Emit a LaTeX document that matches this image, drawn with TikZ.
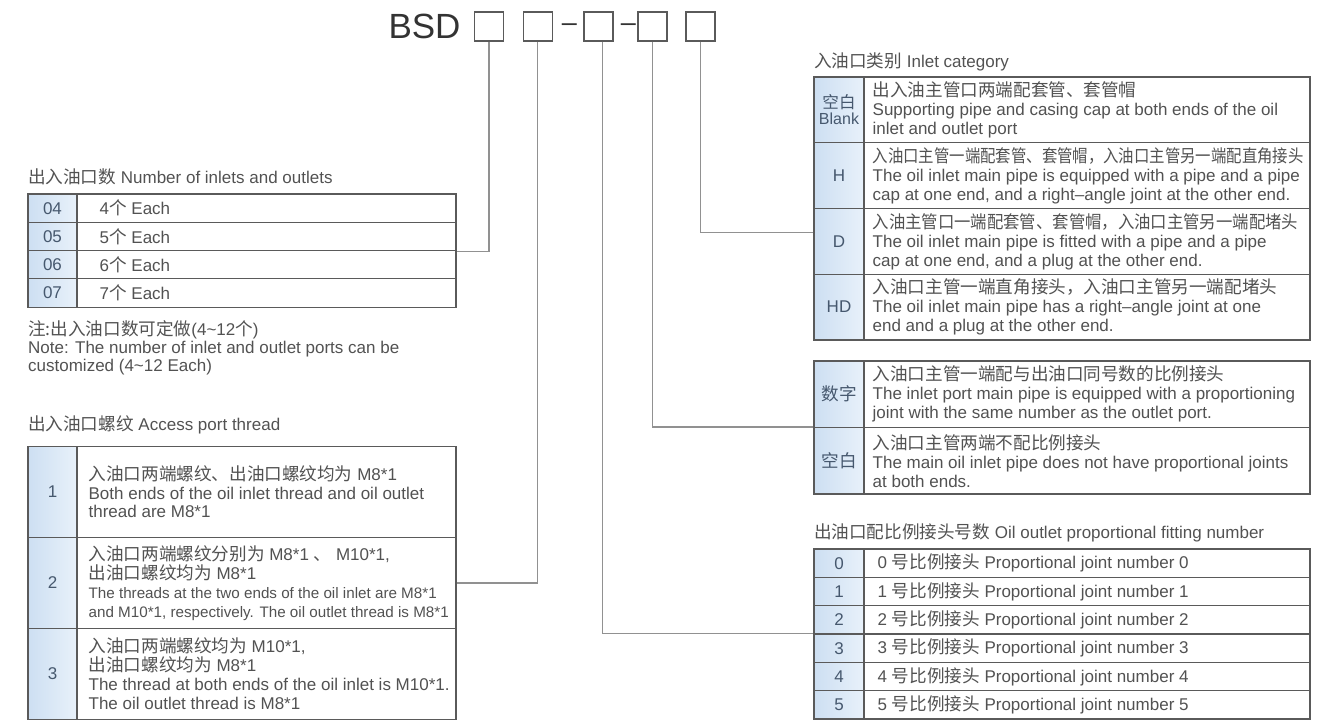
\documentclass[tikz,border=0pt]{standalone}
\usepackage{graphicx}
\usepackage{fontspec}
\setmainfont{Liberation Sans}
\newfontfamily\zhfont{Noto Sans CJK SC}[Scale=1.035]
\newcommand{\zh}[1]{{\zhfont #1}}
\newcommand{\zhfit}[2]{\scalebox{#1}[1]{\zh{#2}}}
\newcommand{\bodyfont}{\fontsize{17}{19}\selectfont}
\newcommand{\smallfont}{\fontsize{15.2}{19}\selectfont}
\usetikzlibrary{positioning}
\definecolor{txtgray}{RGB}{82,82,82}
\definecolor{rulegray}{RGB}{90,90,90}
\definecolor{wiregray}{RGB}{145,145,145}
\definecolor{cellblue}{RGB}{205,223,242}
\definecolor{cellpale}{RGB}{232,241,250}
\definecolor{labtext}{RGB}{70,88,110}

\tikzset{
  codebox/.style={rectangle, draw=rulegray, line width=1.4pt, minimum size=29pt, inner sep=0pt},
  labcell/.style={rectangle, draw=rulegray, line width=1.1pt, left color=cellblue, right color=cellpale, text=labtext, font=\bodyfont, align=center, inner sep=0pt},
  txtcell/.style={rectangle, draw=rulegray, line width=1.1pt, fill=white, inner sep=0pt},
  txt/.style={anchor=west, align=left, text=txtgray, font=\bodyfont, inner sep=0pt},
  wire/.style={draw=wiregray, line width=1.3pt},
}

\begin{document}
\begin{tikzpicture}[x=1pt, y=-1pt]
\useasboundingbox (0,0) rectangle (1325,721);

% Model code
\node[font=\fontsize{35}{40}\selectfont, text=black!80] (bsd) at (424.5,26) {BSD};
\node[codebox] (b1) at (489,26.5) {};
\node[codebox] (b2) at (537.8,26.5) {};
\node[font=\fontsize{27}{30}\selectfont, text=black!80] (hy1) at (569.5,28) {–};
\node[codebox] (b3) at (598.5,26.5) {};
\node[font=\fontsize{27}{30}\selectfont, text=black!80] (hy2) at (628.5,28) {–};
\node[codebox] (b4) at (652.5,26.5) {};
\node[codebox] (b5) at (700.5,26.5) {};

% Number of inlets and outlets
\node[txt] (ttlA) at (28,177) {\zh{出入油口数} Number of inlets and outlets};
\foreach \n/\m [count=\i] in {04/4,05/5,06/6,07/7} {
  \node[labcell, minimum width=49, minimum height=28.3] (a\i) at (52.5,{179.85+28.3*\i}) {\n};
  \node[txtcell, minimum width=379, minimum height=28.3] (at\i) at (266.5,{179.85+28.3*\i}) {};
  \node[txt] (atx\i) at ([xshift=23]at\i.west) {\m\zh{个} Each};
}
\node[txt, font=\fontsize{17}{18}\selectfont] (note) at (28,347.5)
  {\zh{注:出入油口数可定做}(4\textasciitilde12\zh{个})\\Note: The number of inlet and outlet ports can be\\customized (4\textasciitilde12 Each)};

% Access port thread
\node[txt] (ttlB) at (28,425) {\zh{出入油口螺纹} Access port thread};
\node[labcell, minimum width=49, minimum height=91] (t1) at (52.5,492) {1};
\node[txtcell, minimum width=379, minimum height=91] (tc1) at (266.5,492) {};
\node[txt, font=\fontsize{17}{18.5}\selectfont] (tx1) at ([xshift=12]tc1.west)
  {\zh{入油口两端螺纹、出油口螺纹均为} M8*1\\Both ends of the oil inlet thread and oil outlet\\thread are M8*1};
\node[labcell, minimum width=49, minimum height=91] (t2) at (52.5,583) {2};
\node[txtcell, minimum width=379, minimum height=91] (tc2) at (266.5,583) {};
\node[txt] (tx2) at ([xshift=12]tc2.west)
  {\zh{入油口两端螺纹分别为} M8*1 \zh{、} M10*1,\\\zh{出油口螺纹均为} M8*1\\\smallfont The threads at the two ends of the oil inlet are M8*1\\\smallfont and M10*1, respectively. The oil outlet thread is M8*1};
\node[labcell, minimum width=49, minimum height=91] (t3) at (52.5,674) {3};
\node[txtcell, minimum width=379, minimum height=91] (tc3) at (266.5,674) {};
\node[txt] (tx3) at ([xshift=12]tc3.west)
  {\zh{入油口两端螺纹均为} M10*1,\\\zh{出油口螺纹均为} M8*1\\The thread at both ends of the oil inlet is M10*1.\\The oil outlet thread is M8*1};

% Inlet category
\node[txt] (ttlC) at (814,62) {\zh{入油口类别} Inlet category};
\node[labcell, minimum width=50, minimum height=65.75, font=\fontsize{16}{16}\selectfont] (c1) at (839,109.9) {\zh{空白}\\Blank};
\node[txtcell, minimum width=446, minimum height=65.75] (cc1) at (1087,109.9) {};
\node[txt] (cx1) at ([xshift=9]cc1.west)
  {\zh{出入油主管口两端配套管、套管帽}\\Supporting pipe and casing cap at both ends of the oil\\inlet and outlet port};
\node[labcell, minimum width=50, minimum height=65.75] (c2) at (839,175.6) {H};
\node[txtcell, minimum width=446, minimum height=65.75] (cc2) at (1087,175.6) {};
\node[txt] (cx2) at ([xshift=9]cc2.west)
  {\zhfit{0.875}{入油口主管一端配套管、套管帽，入油口主管另一端配直角接头}\\The oil inlet main pipe is equipped with a pipe and a pipe\\cap at one end, and a right–angle joint at the other end.};
\node[labcell, minimum width=50, minimum height=65.75] (c3) at (839,241.4) {D};
\node[txtcell, minimum width=446, minimum height=65.75] (cc3) at (1087,241.4) {};
\node[txt] (cx3) at ([xshift=9]cc3.west)
  {\zhfit{0.93}{入油主管口一端配套管、套管帽，入油口主管另一端配堵头}\\The oil inlet main pipe is fitted with a pipe and a pipe\\cap at one end, and a plug at the other end.};
\node[labcell, minimum width=50, minimum height=65.75] (c4) at (839,307.1) {HD};
\node[txtcell, minimum width=446, minimum height=65.75] (cc4) at (1087,307.1) {};
\node[txt] (cx4) at ([xshift=9]cc4.west)
  {\zh{入油口主管一端直角接头，入油口主管另一端配堵头}\\The oil inlet main pipe has a right–angle joint at one\\end and a plug at the other end.};

% Proportioning joint
\node[labcell, minimum width=50, minimum height=66.5] (d1) at (839,394.25) {\zh{数字}};
\node[txtcell, minimum width=446, minimum height=66.5] (dc1) at (1087,394.25) {};
\node[txt] (dx1) at ([xshift=9]dc1.west)
  {\zh{入油口主管一端配与出油口同号数的比例接头}\\The inlet port main pipe is equipped with a proportioning\\joint with the same number as the outlet port.};
\node[labcell, minimum width=50, minimum height=66.5] (d2) at (839,460.75) {\zh{空白}};
\node[txtcell, minimum width=446, minimum height=66.5] (dc2) at (1087,460.75) {};
\node[txt] (dx2) at ([xshift=9]dc2.west)
  {\zh{入油口主管两端不配比例接头}\\The main oil inlet pipe does not have proportional joints\\at both ends.};

% Outlet fitting number
\node[txt] (ttlE) at (814,533) {\zh{出油口配比例接头号数} Oil outlet proportional fitting number};
\foreach \n [count=\i] in {0,...,5} {
  \node[labcell, minimum width=50, minimum height=28.33] (e\i) at (839,{534.83+28.33*\i}) {\n};
  \node[txtcell, minimum width=446, minimum height=28.33] (ec\i) at (1087,{534.83+28.33*\i}) {};
  \node[txt] (ex\i) at ([xshift=14]ec\i.west) {\n\ \zh{号比例接头} Proportional joint number \n};
}

% Leader lines
\draw[wire] (b1.south) |- (at2.south east);
\draw[wire] (b2.south) |- (tc2.east);
\draw[wire] ([xshift=4]b3.south) |- (e4.north west);
\draw[wire] (b4.south) |- (d2.north west);
\draw[wire] (b5.south) |- ([yshift=9]c3.west);
\end{tikzpicture}
\end{document}
